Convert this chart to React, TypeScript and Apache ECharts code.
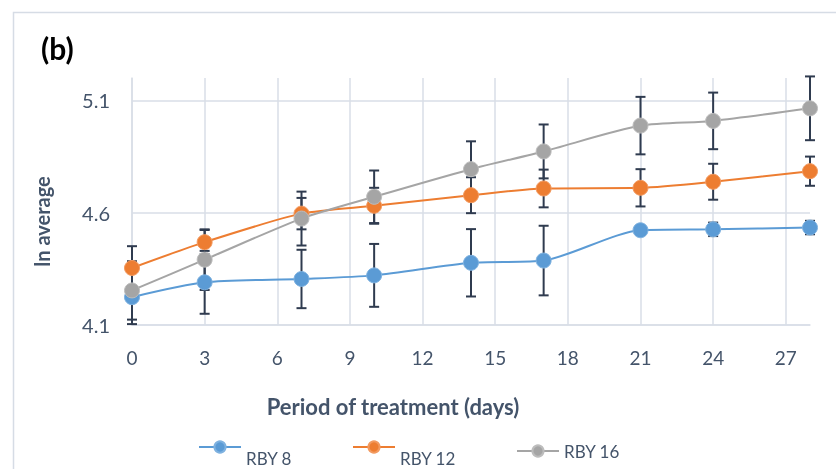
import React, { useEffect, useRef } from "react";
import * as echarts from "echarts";

const days = [0, 3, 7, 10, 14, 17, 21, 24, 28];
const rby8 = [4.224, 4.29, 4.305, 4.321, 4.377, 4.387, 4.522, 4.526, 4.534];
const rby8Err = [0.12, 0.14, 0.13, 0.14, 0.15, 0.155, 0.02, 0.03, 0.03];
const rby12 = [4.354, 4.469, 4.596, 4.631, 4.678, 4.708, 4.711, 4.738, 4.785];
const rby12Err = [0.097, 0.054, 0.07, 0.08, 0.08, 0.084, 0.083, 0.08, 0.065];
const rby16 = [4.254, 4.391, 4.574, 4.671, 4.794, 4.873, 4.988, 5.009, 5.065];
const rby16Err = [0.13, 0.135, 0.12, 0.117, 0.124, 0.12, 0.128, 0.126, 0.142];

const seriesNames = ["RBY 8", "RBY 12", "RBY 16"];
const colors = ["#5B9BD5", "#ED7D31", "#A5A5A5"];
const borders = ["#7fb2e0", "#f29a60", "#bdbdbd"];

const FONT = "Lato, 'Open Sans', sans-serif";
const TEXT = "#44546A";
const GRID = "#D9DEE7";

export default function App() {
  const ref = useRef<HTMLDivElement>(null);
  useEffect(() => {
    document.body.style.margin = "0";
    const chart = echarts.init(ref.current!, null, { renderer: "svg" });
    const values = [rby8, rby12, rby16];
    const errs = [rby8Err, rby12Err, rby16Err];

    const errSeries = values.map((vals, si) => ({
      type: "custom",
      name: "err" + si,
      z: 1,
      clip: false,
      encode: { x: 0, y: [1, 2] },
      data: days.map((d, i) => [d, vals[i] - errs[si][i], vals[i] + errs[si][i]]),
      renderItem: (params: any, api: any) => {
        const lo = api.coord([api.value(0), api.value(1)]);
        const hi = api.coord([api.value(0), api.value(2)]);
        const hw = 5;
        const style = { stroke: "#2F3B4F", lineWidth: 2 };
        return {
          type: "group",
          children: [
            { type: "line", shape: { x1: lo[0], y1: lo[1], x2: hi[0], y2: hi[1] }, style },
            { type: "line", shape: { x1: lo[0] - hw, y1: lo[1], x2: lo[0] + hw, y2: lo[1] }, style },
            { type: "line", shape: { x1: hi[0] - hw, y1: hi[1], x2: hi[0] + hw, y2: hi[1] }, style },
          ],
        };
      },
    }));

    const lineSeries = values.map((vals, si) => ({
      type: "line",
      name: seriesNames[si],
      z: 3,
      smooth: 0.25,
      symbol: "circle",
      symbolSize: 15,
      data: days.map((d, i) => [d, vals[i]]),
      lineStyle: { color: colors[si], width: 2 },
      itemStyle: { color: colors[si], borderColor: borders[si], borderWidth: 1 },
    }));

    const legendLefts = [198, 352, 516];
    const legendTops = [425, 425, 440];
    const legendFormats = ["\n{name}", "\n{name}", "{name}"];

    chart.setOption({
      animation: false,
      textStyle: { fontFamily: FONT },
      grid: { left: 132, right: 26, top: 78, bottom: 144 },
      legend: seriesNames.map((n, i) => ({
        data: [n],
        left: legendLefts[i],
        top: legendTops[i],
        itemWidth: 42,
        itemHeight: 14,
        itemGap: 5,
        padding: 0,
        formatter: legendFormats[i],
        textStyle: { color: TEXT, fontSize: 17, lineHeight: 22, fontFamily: FONT },
      })),
      xAxis: {
        type: "value",
        min: 0,
        max: 28,
        interval: 3,
        name: "Period of treatment (days)",
        nameLocation: "middle",
        nameGap: 70,
        nameTextStyle: {
          color: TEXT,
          fontSize: 22,
          fontWeight: "bold",
          fontFamily: FONT,
          padding: [0, 156, 0, 0],
        },
        axisLine: { show: true, lineStyle: { color: GRID, width: 1.5 } },
        axisTick: { show: false },
        axisLabel: { color: TEXT, fontSize: 19, margin: 23, showMaxLabel: false },
        splitLine: { show: true, showMaxLine: false, lineStyle: { color: GRID, width: 1.5 } },
      },
      yAxis: {
        type: "value",
        min: 4.1,
        max: 5.2,
        interval: 0.5,
        name: "ln average",
        nameLocation: "middle",
        nameGap: 80,
        nameTextStyle: {
          color: TEXT,
          fontSize: 20,
          fontWeight: "bold",
          fontFamily: FONT,
          padding: [0, 40, 0, 0],
        },
        axisLine: { show: true, lineStyle: { color: GRID, width: 1.5 } },
        axisTick: { show: false },
        axisLabel: { color: TEXT, fontSize: 20, margin: 22, showMaxLabel: false },
        splitLine: { show: true, showMaxLine: false, lineStyle: { color: GRID, width: 1.5 } },
      },
      graphic: [
        {
          type: "rect",
          left: 11,
          top: 10,
          shape: { width: 900, height: 500 },
          style: { fill: "none", stroke: "#D6DCE5", lineWidth: 1.5 },
          silent: true,
        },
        {
          type: "text",
          left: 41,
          top: 33,
          style: { text: "(b)", fill: "#000", font: "bold 30px " + FONT },
        },
      ],
      series: [...errSeries, ...lineSeries],
    });
    return () => chart.dispose();
  }, []);
  return <div ref={ref} style={{ position: "fixed", left: 0, top: 0, width: 836, height: 469 }} />;
}
